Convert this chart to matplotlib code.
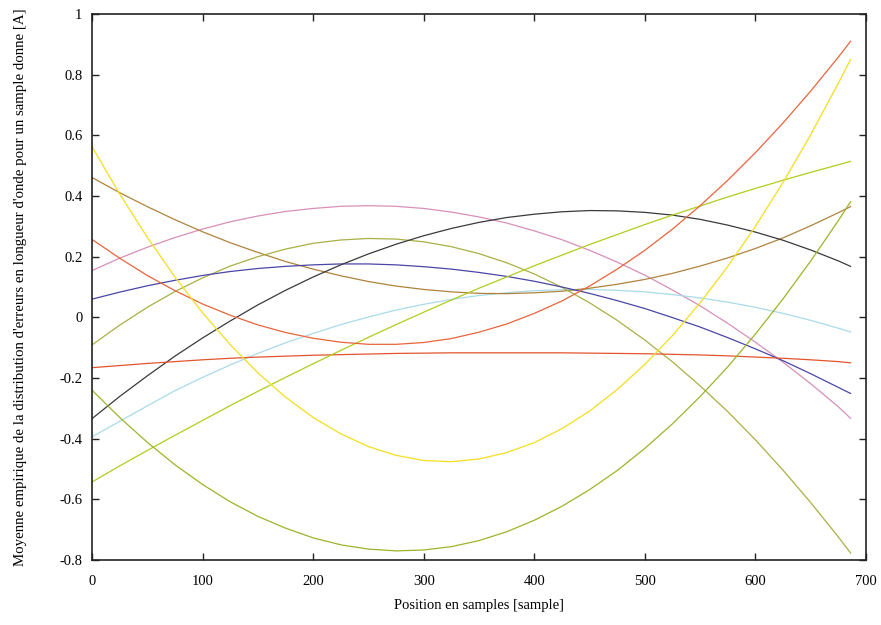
import matplotlib
matplotlib.use("Agg")
import matplotlib.pyplot as plt

plt.rcParams.update({
    'font.family': ['Liberation Serif', 'DejaVu Serif'],
    'font.size': 10.5,
})

# sample positions
pos = [0, 25, 50, 75, 100, 125, 150, 175, 200, 225, 250, 275, 300, 325, 350,
       375, 400, 425, 450, 475, 500, 525, 550, 575, 600, 625, 650, 675, 686]

# one list per curve
orange_rise = [0.257, 0.195, 0.138, 0.088, 0.044, 0.007, -0.025, -0.050, -0.069, -0.082, -0.089, -0.089, -0.083, -0.070, -0.049,
               -0.022, 0.013, 0.054, 0.103, 0.159, 0.221, 0.291, 0.368, 0.452, 0.543, 0.641, 0.746, 0.858, 0.910]
yellow = [0.563, 0.407, 0.264, 0.133, 0.015, -0.090, -0.183, -0.263, -0.330, -0.384, -0.426, -0.455, -0.472, -0.476, -0.467,
          -0.446, -0.413, -0.367, -0.309, -0.238, -0.155, -0.060, 0.048, 0.168, 0.300, 0.445, 0.602, 0.772, 0.850]
lime = [-0.543, -0.490, -0.439, -0.389, -0.340, -0.291, -0.244, -0.198, -0.153, -0.109, -0.066, -0.024, 0.017, 0.057, 0.096,
        0.133, 0.170, 0.205, 0.240, 0.273, 0.306, 0.337, 0.367, 0.397, 0.425, 0.452, 0.478, 0.503, 0.514]
brown = [0.461, 0.411, 0.365, 0.322, 0.282, 0.246, 0.214, 0.184, 0.159, 0.137, 0.118, 0.103, 0.092, 0.084, 0.079,
         0.078, 0.081, 0.086, 0.096, 0.109, 0.125, 0.145, 0.169, 0.196, 0.227, 0.262, 0.302, 0.345, 0.365]
pink = [0.154, 0.195, 0.231, 0.263, 0.291, 0.315, 0.334, 0.349, 0.359, 0.366, 0.368, 0.366, 0.359, 0.347, 0.331,
        0.311, 0.285, 0.256, 0.221, 0.182, 0.139, 0.090, 0.038, -0.020, -0.082, -0.148, -0.219, -0.295, -0.333]
olive = [-0.091, -0.026, 0.033, 0.085, 0.130, 0.169, 0.200, 0.225, 0.244, 0.255, 0.260, 0.258, 0.249, 0.233, 0.210,
         0.180, 0.143, 0.099, 0.048, -0.010, -0.075, -0.147, -0.226, -0.311, -0.404, -0.504, -0.611, -0.724, -0.777]
blue = [0.060, 0.083, 0.104, 0.122, 0.138, 0.151, 0.161, 0.168, 0.173, 0.176, 0.176, 0.173, 0.167, 0.159, 0.148,
        0.135, 0.119, 0.100, 0.079, 0.055, 0.029, -0.001, -0.032, -0.067, -0.104, -0.143, -0.186, -0.231, -0.251]
black = [-0.334, -0.261, -0.193, -0.128, -0.068, -0.012, 0.041, 0.089, 0.133, 0.173, 0.209, 0.241, 0.269, 0.293, 0.313,
         0.329, 0.340, 0.348, 0.352, 0.351, 0.346, 0.337, 0.323, 0.304, 0.281, 0.254, 0.222, 0.186, 0.168]
cyan = [-0.394, -0.343, -0.292, -0.242, -0.198, -0.157, -0.119, -0.084, -0.053, -0.024, 0.001, 0.024, 0.043, 0.059, 0.072,
        0.081, 0.088, 0.091, 0.092, 0.089, 0.084, 0.075, 0.064, 0.050, 0.033, 0.013, -0.010, -0.036, -0.048]
red_flat = [-0.166, -0.159, -0.152, -0.146, -0.140, -0.135, -0.131, -0.128, -0.125, -0.123, -0.121, -0.119, -0.118, -0.117, -0.117,
            -0.117, -0.117, -0.117, -0.118, -0.119, -0.120, -0.122, -0.124, -0.127, -0.131, -0.135, -0.140, -0.146, -0.150]
green = [-0.240, -0.330, -0.412, -0.486, -0.551, -0.608, -0.656, -0.695, -0.727, -0.750, -0.764, -0.770, -0.767, -0.756, -0.736,
         -0.707, -0.669, -0.623, -0.568, -0.505, -0.432, -0.351, -0.261, -0.163, -0.055, 0.061, 0.186, 0.319, 0.381]

series = [
    (pink, '#d98fb8'),
    (cyan, '#a9dbe9'),
    (brown, '#b0833c'),
    (olive, '#a9b044'),
    (blue, '#4a46a6'),
    (black, '#3a3a3a'),
    (red_flat, '#e2552f'),
    (lime, '#b3cc1c'),
    (green, '#9bb52a'),
    (orange_rise, '#e8653c'),
    (yellow, '#f3df1c'),
]

xticks = [0, 100, 200, 300, 400, 500, 600, 700]
yticks = [-0.8, -0.6, -0.4, -0.2, 0, 0.2, 0.4, 0.6, 0.8, 1]
ytick_labels = ['-0.8', '-0.6', '-0.4', '-0.2', '0', '0.2', '0.4', '0.6', '0.8', '1']

fig = plt.figure(figsize=(8.81, 6.25), dpi=100)
ax = fig.add_axes([0.1044, 0.104, 0.8786, 0.8736])

for vals, col in series:
    ax.plot(pos, vals, color=col, lw=0.9)

ax.set_xlim(0, 700)
ax.set_ylim(-0.8, 1)
ax.set_xticks(xticks)
ax.set_xticklabels([str(t) for t in xticks])
ax.set_yticks(yticks)
ax.set_yticklabels(ytick_labels)
ax.tick_params(direction='in', top=True, right=True, length=5, width=1, color='#222222')
ax.tick_params(axis='x', pad=11)
ax.tick_params(axis='y', pad=7)
for s in ax.spines.values():
    s.set_linewidth(1.2)
    s.set_color('#222222')

ax.set_xlabel('Position en samples [sample]', labelpad=8)
ax.set_ylabel("Moyenne empirique de la distribution d'erreurs en longueur d'onde pour un sample donne [A]",
              labelpad=23, fontsize=10.7)

fig.savefig('out.png', dpi=100, facecolor='white')
